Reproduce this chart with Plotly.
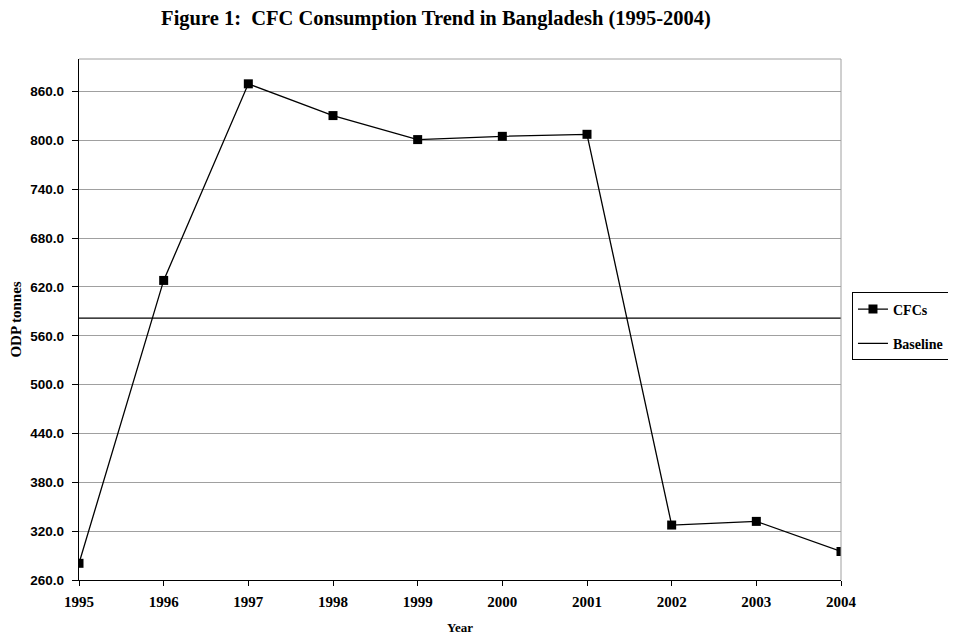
import plotly.graph_objects as go

years = [1995, 1996, 1997, 1998, 1999, 2000, 2001, 2002, 2003, 2004]
cfcs = [280.5, 628.0, 869.5, 830.5, 801.0, 805.0, 807.5, 327.5, 332.0, 295.0]
baseline_value = 581.6
y_ticks = [260, 320, 380, 440, 500, 560, 620, 680, 740, 800, 860]
y_tick_labels = [f"{v:.1f}" for v in y_ticks]

fig = go.Figure()
fig.add_trace(go.Scatter(
    x=years, y=cfcs, name="<b>CFCs</b>", mode="lines+markers", legendgroup="a",
    line=dict(color="black", width=1.3),
    marker=dict(symbol="square", size=9, color="black"),
))
fig.add_trace(go.Scatter(
    x=[years[0], years[-1]], y=[baseline_value, baseline_value], name="<b>Baseline</b>",
    mode="lines", legendgroup="b", line=dict(color="black", width=1.3),
))

W, H = 948, 627
fig.update_layout(
    width=W, height=H,
    paper_bgcolor="white", plot_bgcolor="white",
    margin=dict(l=71, r=115, t=51, b=55, autoexpand=False),
    title=dict(text="<b>Figure 1:  CFC Consumption Trend in Bangladesh (1995-2004)</b>",
               x=(436 - 79) / 762, xanchor="center", xref="paper",
               y=1 - (18 - 8) / H, yanchor="middle",
               font=dict(family="Liberation Serif", size=20.5, color="black")),
    showlegend=True,
    legend=dict(x=1.0144, xanchor="left", y=0.4866, yanchor="middle",
                xref="paper", yref="paper",
                bordercolor="black", borderwidth=1, bgcolor="white",
                font=dict(family="Liberation Serif", size=14, color="black"),
                itemwidth=30, tracegroupgap=13, traceorder="grouped"),
    xaxis=dict(
        range=[1995, 2004], tickvals=years, ticktext=[f"<b>{y}</b>" for y in years],
        showgrid=False, zeroline=False,
        showline=True, linecolor="black", linewidth=1.3,
        ticks="outside", ticklen=5, tickcolor="black", ticklabelstandoff=3,
        tickfont=dict(family="Liberation Serif", size=15, color="black"),
        title=dict(text="<b>Year</b>", standoff=14,
                   font=dict(family="Liberation Serif", size=13, color="black")),
    ),
    yaxis=dict(
        range=[260, 900], tickvals=y_ticks, ticktext=[f"<b>{t}</b>" for t in y_tick_labels],
        showgrid=True, gridcolor="#a0a0a0", gridwidth=1, zeroline=False,
        showline=True, linecolor="black", linewidth=1.3,
        ticks="outside", ticklen=6, tickcolor="black", ticklabelstandoff=5,
        tickfont=dict(family="Liberation Sans", size=13.5, color="black"),
        title=dict(text="<b>ODP tonnes</b>", standoff=6,
                   font=dict(family="Liberation Serif", size=15, color="black")),
    ),
)
fig.add_shape(type="line", xref="paper", yref="paper", x0=0, x1=1, y0=1, y1=1,
              line=dict(color="#a0a0a0", width=1))
fig.add_shape(type="line", xref="paper", yref="paper", x0=1, x1=1, y0=0, y1=1,
              line=dict(color="#a0a0a0", width=1))

fig.write_html("out.html")
